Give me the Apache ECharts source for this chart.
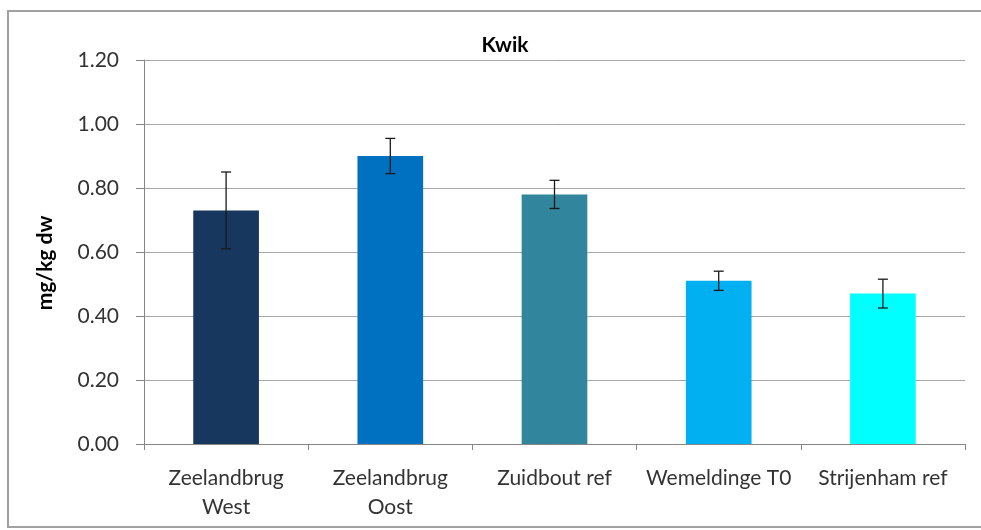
<!DOCTYPE html>
<html>
<head>
<meta charset="utf-8">
<script src="https://cdn.jsdelivr.net/npm/echarts@6/dist/echarts.min.js"></script>
<style>
  html, body { margin: 0; padding: 0; background: #ffffff; }
  #chart { width: 981px; height: 530px; }
</style>
</head>
<body>
<div id="chart"></div>
<script>
// Sampling locations
const categories = ['Zeelandbrug\nWest', 'Zeelandbrug\nOost', 'Zuidbout ref', 'Wemeldinge T0', 'Strijenham ref'];
// Mean mercury concentration (mg/kg dw)
const meanValues = [0.73, 0.90, 0.78, 0.51, 0.47];
// Standard deviation shown as error bars
const errorValues = [0.12, 0.055, 0.044, 0.03, 0.045];
const barColors = ['#17375E', '#0070C0', '#31859C', '#00B0F0', '#00FFFF'];
const yTicks = { min: 0, max: 1.2, interval: 0.2 };

const font = 'Lato, "Open Sans", sans-serif';

const chart = echarts.init(document.getElementById('chart'), null, { renderer: 'canvas' });

const errorData = meanValues.map((v, i) => [i, v - errorValues[i], v + errorValues[i]]);

chart.setOption({
  animation: false,
  backgroundColor: '#ffffff',
  title: {
    text: 'Kwik',
    left: 500,
    top: 30,
    textAlign: 'center',
    textStyle: { fontFamily: font, fontSize: 21, fontWeight: 'bold', color: '#000000' }
  },
  graphic: [{
    type: 'rect',
    shape: { x: 8, y: 11, width: 1000, height: 516 },
    style: { fill: 'none', stroke: '#a0a0a0', lineWidth: 2 },
    silent: true
  }],
  grid: { left: 144, right: 16, top: 60, bottom: 86 },
  xAxis: {
    type: 'category',
    data: categories,
    axisLine: { lineStyle: { color: '#868686', width: 1 } },
    axisTick: { show: true, length: 6, lineStyle: { color: '#868686' } },
    axisLabel: {
      fontFamily: font, fontSize: 21, color: '#333333',
      margin: 20, lineHeight: 29, interval: 0
    }
  },
  yAxis: {
    type: 'value',
    min: yTicks.min, max: yTicks.max, interval: yTicks.interval,
    name: 'mg/kg dw',
    nameLocation: 'middle',
    nameGap: 88,
    nameTextStyle: {
      fontFamily: font, fontSize: 21, fontWeight: 'bold', color: '#000000',
      padding: [0, 22, 0, 0]
    },
    axisLine: { show: true, lineStyle: { color: '#868686', width: 1 } },
    axisTick: { show: true, length: 8, lineStyle: { color: '#868686' } },
    axisLabel: {
      fontFamily: font, fontSize: 21, color: '#333333', margin: 25,
      formatter: v => v.toFixed(2)
    },
    splitLine: { lineStyle: { color: '#a6a6a6', width: 1 } }
  },
  series: [
    {
      type: 'bar',
      data: meanValues.map((v, i) => ({ value: v, itemStyle: { color: barColors[i] } })),
      barWidth: '40%'
    },
    {
      type: 'custom',
      data: errorData,
      z: 10,
      renderItem: function (params, api) {
        const x = api.value(0);
        const lo = api.coord([x, api.value(1)]);
        const hi = api.coord([x, api.value(2)]);
        const half = 5;
        const style = { stroke: '#1a1a1a', lineWidth: 1.3 };
        return {
          type: 'group',
          children: [
            { type: 'line', shape: { x1: hi[0], y1: hi[1], x2: lo[0], y2: lo[1] }, style: style },
            { type: 'line', shape: { x1: hi[0] - half, y1: hi[1], x2: hi[0] + half, y2: hi[1] }, style: style },
            { type: 'line', shape: { x1: lo[0] - half, y1: lo[1], x2: lo[0] + half, y2: lo[1] }, style: style }
          ]
        };
      }
    }
  ]
});
</script>
</body>
</html>
